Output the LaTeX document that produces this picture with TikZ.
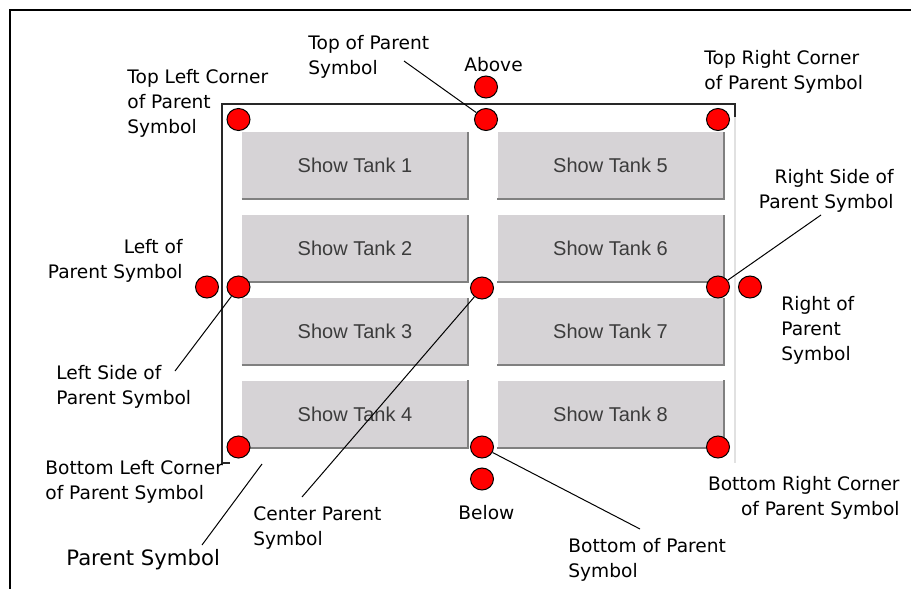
\documentclass[tikz,border=0pt]{standalone}
\usepackage{fontspec}
\setmainfont{DejaVu Sans}
\newfontfamily\btnfont{Liberation Sans}
\usepackage{tikz}
\usetikzlibrary{shapes.geometric}
\usepackage{xcolor}
\definecolor{ink}{RGB}{0,0,0}
\definecolor{edge}{RGB}{40,40,40}
\definecolor{rim}{RGB}{225,225,225}
\definecolor{btnface}{RGB}{214,211,214}
\definecolor{btnshade}{RGB}{128,128,128}
\definecolor{btntext}{RGB}{60,60,60}
\definecolor{dotred}{RGB}{255,0,0}
\tikzset{
  lbl/.style={inner sep=0pt,font=\fontsize{9.3}{12.5}\selectfont,align=left},
  lblr/.style={lbl,align=right},
  btn/.style={fill=btnface,minimum width=113pt,minimum height=33.5pt,inner sep=0pt,
    font=\btnfont\fontsize{10}{12}\selectfont,text=btntext},
  pin/.style={ellipse,draw=ink,fill=dotred,minimum width=11.5pt,minimum height=11pt,
    inner sep=0pt,line width=0.5pt},
  lead/.style={draw=ink,line width=0.5pt},
}

\begin{document}
\begin{tikzpicture}[x=0.5pt,y=-0.5pt]
  \useasboundingbox (0,0) rectangle (911,589);
  \draw[ink,line width=1pt] (10,589) -- (10,10) -- (911,10);

  % parent symbol outline
  \draw[rim,line width=0.6pt] (735,117) -- (735,463);
  \draw[edge,line width=0.6pt] (735,117) -- (735,104) -- (222,104) -- (222,463) -- (230,463);

  % buttons
  \foreach \n/\x/\y in {1/355/165.5, 2/355/248.5, 3/355/331.5, 4/355/414,
                        5/610.5/165.5, 6/610.5/248.5, 7/610.5/331.5, 8/610.5/414} {
    \node[btn] (b\n) at (\x,\y) {Show Tank \n};
    \draw[btnshade,line width=1pt] (b\n.south west) -- (b\n.south east) -- (b\n.north east);
  }

  % labels
  \node[lbl,anchor=west] (ltop) at (308,56.5) {Top of Parent\\Symbol};
  \node[lbl] (labove) at (493.5,65) {Above};
  \node[lbl,anchor=west] (ltl) at (127,103.5) {Top Left Corner\\of Parent\\Symbol};
  \node[lbl,anchor=west] (ltr) at (704,72) {Top Right Corner\\of Parent Symbol};
  \node[lblr,anchor=east] (lrs) at (894,190.5) {Right Side of\\Parent Symbol};
  \node[lblr,anchor=east] (lleft) at (183,261) {Left of\\Parent Symbol};
  \node[lbl,anchor=west] (lls) at (56,386.5) {Left Side of\\Parent Symbol};
  \node[lbl,anchor=west] (lblc) at (45,481.5) {Bottom Left Corner\\of Parent Symbol};
  \node[lbl,anchor=west,font=\fontsize{10.6}{13}\selectfont] (lps) at (66,560) {Parent Symbol};
  \node[lbl,anchor=west] (lcen) at (253,528.5) {Center Parent\\Symbol};
  \node[lbl,anchor=west] (lbelow) at (458,512.5) {Below};
  \node[lbl,anchor=west] (lbot) at (568,560) {Bottom of Parent\\Symbol};
  \node[lbl,anchor=west] (lright) at (781,330) {Right of\\Parent\\Symbol};
  \node[lblr,anchor=east] (lbrc) at (900,497.5) {Bottom Right Corner\\of Parent Symbol};

  % anchor points
  \node[pin] (ptl) at (238.5,119.5) {};
  \node[pin] (ptop) at (486,119.5) {};
  \node[pin] (pabove) at (486,87) {};
  \node[pin] (ptr) at (718,119.5) {};
  \node[pin] (pleft) at (207,287) {};
  \node[pin] (pls) at (238.5,287) {};
  \node[pin] (pcen) at (482,288) {};
  \node[pin] (prs) at (718,287) {};
  \node[pin] (pright) at (750,287) {};
  \node[pin] (pbl) at (238.5,447) {};
  \node[pin] (pbot) at (482,447) {};
  \node[pin] (pbelow) at (482,479) {};
  \node[pin] (pbr) at (718,447) {};

  % leader lines
  \coordinate (etop) at (404,61);
  \coordinate (ers) at (821,215);
  \coordinate (els) at (175,371);
  \coordinate (eps) at (202,545);
  \coordinate (eframe) at (262,464);
  \coordinate (ecen) at (302,497);
  \coordinate (ebot) at (640,529);
  \draw[lead] (etop) -- (ptop);
  \draw[lead] (ers) -- (prs);
  \draw[lead] (els) -- (pls);
  \draw[lead] (eps) -- (eframe);
  \draw[lead] (ecen) -- (pcen);
  \draw[lead] (ebot) -- (pbot);
\end{tikzpicture}
\end{document}
